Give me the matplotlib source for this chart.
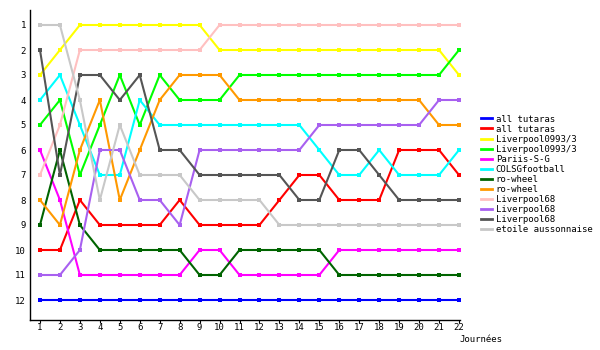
"""Ranking evolution per matchday (classement par journée)."""
import matplotlib
matplotlib.use("Agg")
import matplotlib.pyplot as plt
from matplotlib.lines import Line2D

ROUNDS = list(range(1, 23))

# team label, colour, rank at each round
TEAMS = ["all tutaras", "all tutaras", "Liverpool0993/3", "Liverpool0993/3",
         "Pariis-S-G", "COLSGfootball", "ro-wheel", "ro-wheel",
         "Liverpool68", "Liverpool68", "Liverpool68", "etoile aussonnaise"]
COLORS = ["#0000ff", "#ff0000", "#ffff00", "#00ff00", "#ff00ff", "#00ffff",
          "#006400", "#ff9900", "#ffc0c0", "#a860f0", "#555555", "#c8c8c8"]

blue = [12] * 22
red = [10, 10, 8, 9, 9, 9, 9, 8, 9, 9, 9, 9, 8, 7, 7, 8, 8, 8, 6, 6, 6, 7]
yellow = [3, 2, 1, 1, 1, 1, 1, 1, 1, 2, 2, 2, 2, 2, 2, 2, 2, 2, 2, 2, 2, 3]
green = [5, 4, 7, 5, 3, 5, 3, 4, 4, 4, 3, 3, 3, 3, 3, 3, 3, 3, 3, 3, 3, 2]
magenta = [6, 8, 11, 11, 11, 11, 11, 11, 10, 10, 11, 11, 11, 11, 11, 10, 10, 10, 10, 10, 10, 10]
cyan = [4, 3, 5, 7, 7, 4, 5, 5, 5, 5, 5, 5, 5, 5, 6, 7, 7, 6, 7, 7, 7, 6]
darkgreen = [9, 6, 9, 10, 10, 10, 10, 10, 11, 11, 10, 10, 10, 10, 10, 11, 11, 11, 11, 11, 11, 11]
orange = [8, 9, 6, 4, 8, 6, 4, 3, 3, 3, 4, 4, 4, 4, 4, 4, 4, 4, 4, 4, 5, 5]
pink = [7, 5, 2, 2, 2, 2, 2, 2, 2, 1, 1, 1, 1, 1, 1, 1, 1, 1, 1, 1, 1, 1]
purple = [11, 11, 10, 6, 6, 8, 8, 9, 6, 6, 6, 6, 6, 6, 5, 5, 5, 5, 5, 5, 4, 4]
darkgray = [2, 7, 3, 3, 4, 3, 6, 6, 7, 7, 7, 7, 7, 8, 8, 6, 6, 7, 8, 8, 8, 8]
lightgray = [1, 1, 4, 8, 5, 7, 7, 7, 8, 8, 8, 8, 9, 9, 9, 9, 9, 9, 9, 9, 9, 9]

RANKS = [blue, red, yellow, green, magenta, cyan, darkgreen, orange,
         pink, purple, darkgray, lightgray]

FONT = "DejaVu Sans Mono"


def main():
    fig = plt.figure(figsize=(6.0, 3.5), dpi=100)
    ax = fig.add_axes([30 / 600, 1 - 320 / 350, 430 / 600, 310 / 350])

    for ranks, col in zip(RANKS, COLORS):
        ax.plot(ROUNDS, ranks, color=col, linewidth=1.5, marker="s",
                markersize=2.8, markeredgewidth=0, solid_joinstyle="miter")

    ax.set_xlim(0.5, 22.05)
    ax.set_ylim(12.8, 0.4)
    ax.set_xticks(ROUNDS)
    ax.set_yticks(range(1, 13))
    ax.tick_params(axis="x", length=2, pad=0.5, labelsize=6.5)
    ax.tick_params(axis="y", length=0, pad=3, labelsize=6.5)
    for lab in ax.get_xticklabels() + ax.get_yticklabels():
        lab.set_family(FONT)
    for s in ("top", "right"):
        ax.spines[s].set_visible(False)
    ax.spines["left"].set_linewidth(1)
    ax.spines["bottom"].set_linewidth(1)

    handles = [Line2D([], [], color=c, linewidth=2) for c in COLORS]
    fig.legend(handles, TEAMS, loc="upper left",
               bbox_to_anchor=(476 / 600, 1 - 110 / 350), frameon=False,
               prop={"family": FONT, "size": 6.5}, handlelength=1.3,
               handletextpad=0.4, labelspacing=0.12, borderpad=0)

    fig.text(459 / 600, 1 - 339 / 350, "Journées", family=FONT, fontsize=6.5,
             va="center", ha="left")

    fig.savefig("out.png", dpi=100)
    plt.close(fig)


if __name__ == "__main__":
    main()
